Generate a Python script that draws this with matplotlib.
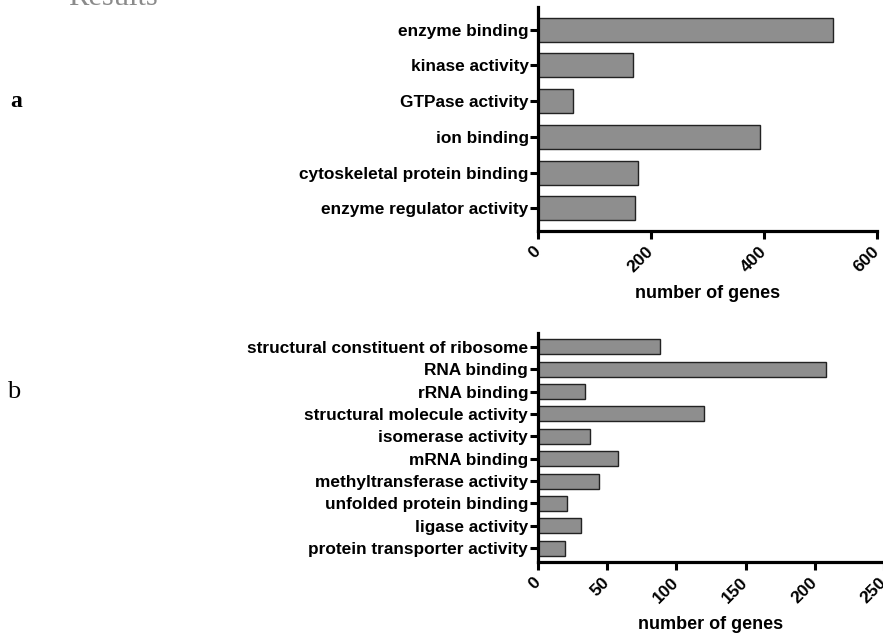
import matplotlib
matplotlib.use("Agg")
import matplotlib.pyplot as plt

# panel a
mf_terms = ["enzyme binding", "kinase activity", "GTPase activity", "ion binding",
            "cytoskeletal protein binding", "enzyme regulator activity"]
mf_counts = [522, 168, 62, 392, 176, 171]
mf_ticks = [0, 200, 400, 600]

# panel b
b_terms = ["structural constituent of ribosome", "RNA binding", "rRNA binding",
           "structural molecule activity", "isomerase activity", "mRNA binding",
           "methyltransferase activity", "unfolded protein binding", "ligase activity",
           "protein transporter activity"]
b_counts = [88, 208, 34, 120, 38, 58, 44, 21, 31, 20]
b_ticks = [0, 50, 100, 150, 200, 250]

plt.rcParams['font.family'] = ['Liberation Sans', 'DejaVu Sans']

fig = plt.figure(figsize=(8.83, 6.37), dpi=100)


def draw_panel(ax, terms, counts, ticks):
    y = list(range(len(terms)))
    ax.barh(y, counts, height=0.67, color="#8e8e8e", edgecolor="#222222", linewidth=1.0)
    ax.set_ylim(len(terms) - 1 + 0.63, -0.63)
    ax.set_xlim(ticks[0], ticks[-1])
    ax.set_yticks(y)
    ax.set_yticklabels(terms, fontsize=12.4, fontweight="bold")
    ax.set_xticks(ticks)
    ax.set_xticklabels([str(t) for t in ticks], fontsize=12.6, fontweight="bold",
                       rotation=45, ha="right", va="center", rotation_mode="anchor")
    ax.spines["top"].set_visible(False)
    ax.spines["right"].set_visible(False)
    for s in ("left", "bottom"):
        ax.spines[s].set_linewidth(2.3)
        ax.spines[s].set_capstyle("projecting")
    ax.tick_params(axis="y", length=6, width=2.2, pad=1)
    ax.tick_params(axis="x", length=6, width=2.2, pad=7)
    ax.set_xlabel("number of genes", fontsize=13, fontweight="bold", labelpad=7)


ax1 = fig.add_axes([0.6096, 0.6374, 0.3839, 0.3516])
draw_panel(ax1, mf_terms, mf_counts, mf_ticks)

ax2 = fig.add_axes([0.609, 0.1173, 0.3925, 0.3604])
draw_panel(ax2, b_terms, b_counts, b_ticks)

# page decorations
fig.text(68 / 883, 1 - 5 / 637, "Results", fontsize=22, color="#8a8a8a",
         family="Liberation Serif", va="baseline")
fig.text(10 / 883, 1 - 107 / 637, "a", fontsize=17, fontweight="bold",
         family="Liberation Serif", va="baseline")
fig.text(7 / 883, 1 - 398 / 637, "b", fontsize=19,
         family="Liberation Serif", va="baseline")

fig.savefig("out.png", dpi=100)
